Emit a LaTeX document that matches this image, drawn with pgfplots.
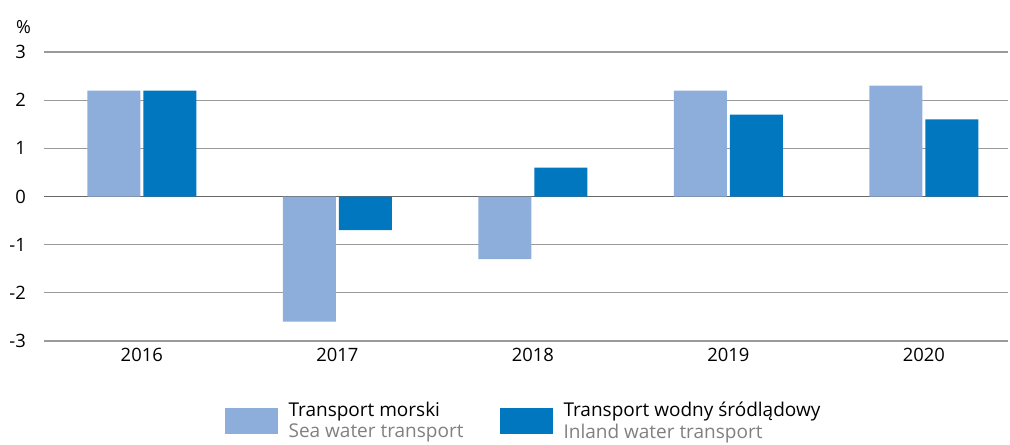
\documentclass[border=0pt]{standalone}
\usepackage{pgfplots}
\pgfplotsset{compat=1.18}
\usepackage{fontspec}
\setmainfont{Open Sans}
\usetikzlibrary{calc}
\definecolor{sea}{HTML}{8DAEDB}
\definecolor{inland}{HTML}{0077BF}
\definecolor{gridc}{HTML}{9A9A9A}
\definecolor{subgray}{HTML}{808080}
\begin{document}
\fontsize{18}{22}\selectfont
\begin{tikzpicture}
\begin{axis}[name=ax,
  scale only axis, width=964pt, height=289pt,
  ybar=3pt, bar width=53pt,
  xmin=-0.5, xmax=4.43, ymin=-3, ymax=3,
  xtick=data, xticklabels={2016,2017,2018,2019,2020},
  ytick={-3,-2,-1,0,1,2,3},
  yticklabels={-3,-2,-1,0,1,2,3},
  axis line style={draw=none},
  major tick length=0pt,
  ymajorgrids, grid style={gridc, line width=1.2pt},
  extra y ticks={0}, extra y tick labels={},
  extra y tick style={grid style={black!60, line width=1.6pt}},
  tick label style={font=\fontsize{18.4}{22}\selectfont},
  yticklabel style={xshift=-12pt},
  xticklabel style={yshift=-1pt},
  legend style={draw=none, at={(0.184,-0.195)}, anchor=north west, legend columns=2,
    font=\fontsize{19}{24}\selectfont,
    /tikz/every odd column/.append style={column sep=9pt},
    /tikz/every even column/.append style={column sep=34pt}},
  legend image code/.code={\fill[#1,draw=none] (0pt,-13pt) rectangle (53pt,13pt);},
  legend cell align=left,
  clip=false,
]
\addplot[fill=sea, draw=none] coordinates {(0,2.2) (1,-2.6) (2,-1.3) (3,2.2) (4,2.3)};
\addlegendentry{\shortstack[l]{Transport morski\\\textcolor{subgray}{Sea water transport}}}
\addplot[fill=inland, draw=none] coordinates {(0,2.2) (1,-0.7) (2,0.6) (3,1.7) (4,1.6)};
\addlegendentry{\shortstack[l]{Transport wodny śródlądowy\\\textcolor{subgray}{Inland water transport}}}
\node[anchor=south west, font=\fontsize{18}{21}\selectfont] at ($(rel axis cs:0,1)+(-34pt,12pt)$) {\%};
\end{axis}
\path[use as bounding box] ($(ax.south west)+(-44pt,-101pt)$) rectangle ($(ax.north east)+(2pt,52pt)$);
\end{tikzpicture}
\end{document}
